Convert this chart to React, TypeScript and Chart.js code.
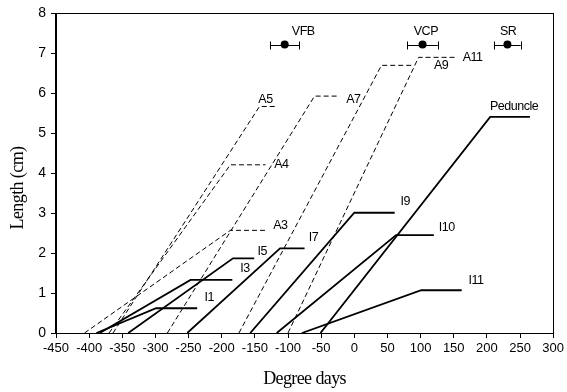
import { useEffect, useRef } from "react";
import { Chart, registerables } from "chart.js";

Chart.register(...registerables);

// Axis ranges
const xMin = -450;
const xMax = 300;
const xStep = 50;
const yMin = 0;
const yMax = 8;
const yStep = 1;

// Solid series (internodes + peduncle): x = degree days, y = length (cm)
const I1X = [-389, -299, -237];
const I1Y = [0, 0.62, 0.62];
const I3X = [-384, -247, -184];
const I3Y = [0, 1.33, 1.33];
const I5X = [-341, -183, -151];
const I5Y = [0, 1.87, 1.87];
const I7X = [-252, -112, -75];
const I7Y = [0, 2.12, 2.12];
const I9X = [-157, 0, 61];
const I9Y = [0, 3.01, 3.01];
const I10X = [-117, 63, 120];
const I10Y = [0, 2.45, 2.45];
const I11X = [-79, 101, 162];
const I11Y = [0, 1.07, 1.07];
const PedX = [-51, 205, 265];
const PedY = [0, 5.41, 5.41];

// Dashed series (A)
const A3X = [-407, -187, -132];
const A3Y = [0, 2.57, 2.57];
const A4X = [-370, -187, -134];
const A4Y = [0, 4.21, 4.21];
const A5X = [-364, -143, -117];
const A5Y = [0, 5.67, 5.67];
const A7X = [-282, -60, -22];
const A7Y = [0, 5.93, 5.93];
const A9X = [-174, 41, 89];
const A9Y = [0, 6.7, 6.7];
const A11X = [-100, 97, 156];
const A11Y = [0, 6.9, 6.9];

// Developmental stages with horizontal error bars
const stageNames = ["VFB", "VCP", "SR"];
const stageX = [-105, 103, 231];
const stageY = [7.22, 7.22, 7.22];
const stageErr = [22, 23, 20];
const stageLabelX = [-77, 108, 232];
const stageLabelY = [7.54, 7.54, 7.54];

// Series labels (anchored in data coordinates)
const labelText = ["A5", "A7", "A9", "A11", "A4", "A3", "I5", "I3", "I1", "I7", "I9", "I10", "I11", "Peduncle"];
const labelX = [-134, -1.5, 131, 178.5, -110, -111.5, -139, -165, -219, -61.5, 77, 139.5, 183.5, 241];
const labelY = [5.85, 5.85, 6.69, 6.9, 4.22, 2.7, 2.05, 1.62, 0.88, 2.39, 3.28, 2.63, 1.31, 5.66];

const xTitle = "Degree days";
const yTitle = "Length (cm)";

const toPts = (xs: number[], ys: number[]) => xs.map((x, i) => ({ x, y: ys[i] }));

const solidSeries = [
  [I1X, I1Y], [I3X, I3Y], [I5X, I5Y], [I7X, I7Y],
  [I9X, I9Y], [I10X, I10Y], [I11X, I11Y], [PedX, PedY],
];
const dashedSeries = [
  [A3X, A3Y], [A4X, A4Y], [A5X, A5Y], [A7X, A7Y], [A9X, A9Y], [A11X, A11Y],
];

const SANS = '"Liberation Sans", Arial, sans-serif';
const SERIF = '"Liberation Serif", "Times New Roman", serif';

const annotPlugin = {
  id: "annot",
  beforeDatasetsDraw(chart: any) {
    const { ctx, scales } = chart;
    const x = scales.x;
    const y = scales.y;
    ctx.save();
    ctx.strokeStyle = "#000";
    ctx.lineWidth = 1;
    for (let i = 0; i < stageX.length; i++) {
      const l = x.getPixelForValue(stageX[i] - stageErr[i]);
      const r = x.getPixelForValue(stageX[i] + stageErr[i]);
      const py = Math.round(y.getPixelForValue(stageY[i])) + 0.5;
      ctx.beginPath();
      ctx.moveTo(l, py);
      ctx.lineTo(r, py);
      ctx.moveTo(Math.round(l) + 0.5, py - 4);
      ctx.lineTo(Math.round(l) + 0.5, py + 4);
      ctx.moveTo(Math.round(r) + 0.5, py - 4);
      ctx.lineTo(Math.round(r) + 0.5, py + 4);
      ctx.stroke();
    }
    ctx.restore();
  },
  afterDraw(chart: any) {
    const { ctx, scales, chartArea } = chart;
    const x = scales.x;
    const y = scales.y;
    ctx.save();
    // frame
    ctx.strokeStyle = "#000";
    ctx.lineWidth = 1;
    ctx.strokeRect(
      Math.round(chartArea.left) - 0.5,
      Math.round(chartArea.top) + 0.5,
      Math.round(chartArea.right - chartArea.left) + 1,
      Math.round(chartArea.bottom - chartArea.top)
    );
    // labels
    ctx.fillStyle = "#000";
    ctx.font = `12.5px ${SANS}`;
    ctx.textAlign = "center";
    ctx.textBaseline = "middle";
    (ctx as any).letterSpacing = "-0.5px";
    for (let i = 0; i < labelText.length; i++) {
      ctx.fillText(labelText[i], x.getPixelForValue(labelX[i]), y.getPixelForValue(labelY[i]));
    }
    for (let i = 0; i < stageNames.length; i++) {
      ctx.fillText(stageNames[i], x.getPixelForValue(stageLabelX[i]), y.getPixelForValue(stageLabelY[i]));
    }
    // axis titles
    (ctx as any).letterSpacing = "-0.6px";
    ctx.font = `18px ${SERIF}`;
    ctx.fillText(xTitle, (chartArea.left + chartArea.right) / 2, 379);
    ctx.translate(18, 188);
    ctx.rotate(-Math.PI / 2);
    ctx.fillText(yTitle, 0, 0);
    ctx.restore();
  },
};

export default function App() {
  const ref = useRef<HTMLCanvasElement | null>(null);
  useEffect(() => {
    document.body.style.margin = "0";
    const canvas = ref.current;
    if (!canvas) return;
    const datasets: any[] = [];
    solidSeries.forEach(([xs, ys]) => {
      datasets.push({
        data: toPts(xs, ys),
        showLine: true,
        borderColor: "#000",
        borderWidth: 1.8,
        pointRadius: 0,
        fill: false,
      });
    });
    dashedSeries.forEach(([xs, ys]) => {
      datasets.push({
        data: toPts(xs, ys),
        showLine: true,
        borderColor: "#000",
        borderWidth: 1,
        borderDash: [5, 3],
        pointRadius: 0,
        fill: false,
      });
    });
    datasets.push({
      data: toPts(stageX, stageY),
      showLine: false,
      pointRadius: 4,
      pointBackgroundColor: "#000",
      pointBorderColor: "#000",
      pointBorderWidth: 0,
    });

    const chart = new Chart(canvas, {
      type: "scatter",
      data: { datasets },
      options: {
        animation: false,
        responsive: false,
        devicePixelRatio: 1,
        layout: { padding: { left: 0, right: 11, top: 11, bottom: 0 } },
        plugins: { legend: { display: false }, tooltip: { enabled: false } },
        scales: {
          x: {
            type: "linear",
            min: xMin,
            max: xMax,
            afterFit: (s: any) => { s.height = 59; },
            ticks: {
              stepSize: xStep,
              color: "#000",
              font: { family: SANS, size: 13 },
              padding: 3,
              maxRotation: 0,
              autoSkip: false,
            },
            grid: { display: true, drawOnChartArea: false, drawTicks: true, tickLength: 5, color: "#000" },
            border: { display: true, color: "#000", width: 1 },
          },
          y: {
            type: "linear",
            min: yMin,
            max: yMax,
            afterFit: (s: any) => { s.width = 56; },
            ticks: {
              stepSize: yStep,
              color: "#000",
              font: { family: SANS, size: 14 },
              padding: 5,
            },
            grid: { display: true, drawOnChartArea: false, drawTicks: true, tickLength: 5, color: "#000" },
            border: { display: true, color: "#000", width: 1 },
          },
        },
      },
      plugins: [annotPlugin],
    });
    return () => chart.destroy();
  }, []);
  return <canvas ref={ref} width={567} height={392} />;
}
